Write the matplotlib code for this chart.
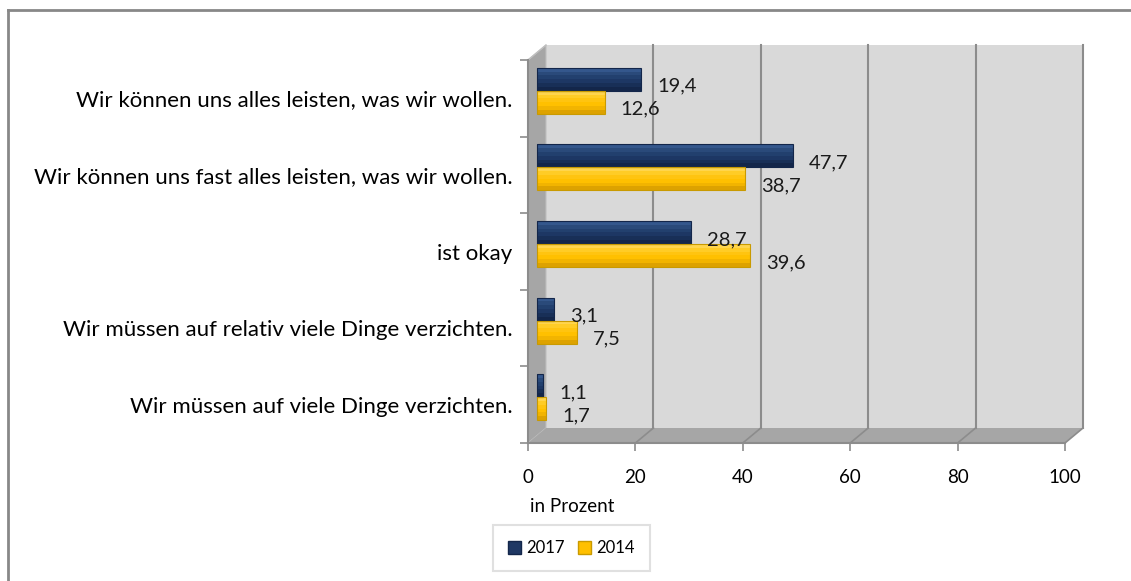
import matplotlib
matplotlib.use("Agg")
import matplotlib.pyplot as plt
from matplotlib.patches import Polygon, Patch
from matplotlib.lines import Line2D

plt.rcParams['font.family'] = ['Lato', 'DejaVu Sans']

# Daten (von oben nach unten)
kategorien = [
    "Wir können uns alles leisten, was wir wollen.",
    "Wir können uns fast alles leisten, was wir wollen.",
    "ist okay",
    "Wir müssen auf relativ viele Dinge verzichten.",
    "Wir müssen auf viele Dinge verzichten.",
]
werte_2017 = [19.4, 47.7, 28.7, 3.1, 1.1]
werte_2014 = [12.6, 38.7, 39.6, 7.5, 1.7]
x_ticks = [0, 20, 40, 60, 80, 100]

farbe_2017 = "#1F3864"
farbe_2014 = "#FFC000"
grau_wand = "#D9D9D9"
grau_seite = "#A6A6A6"
grau_linie = "#8C8C8C"

# Farbverlauf oben hell -> unten dunkel
verlauf_2017 = ["#34578C", "#2A4A7A", "#22406E", "#1D3764", "#182F57", "#13264A"]
verlauf_2014 = ["#FFD54D", "#FFCC26", "#FFC410", "#FFC000", "#F2B400", "#DDA200"]

fig = plt.figure(figsize=(11.31, 5.81), dpi=100)
ax = fig.add_axes([528 / 1131, 138 / 581, 537 / 1131, 383 / 581])
ax.set_xlim(0, 100)
ax.set_ylim(0, 5)

# Tiefe des 3D-Effekts in Datenkoordinaten
DX = 18 / (537 / 100)
DY = 15 / (383 / 5)

# Rückwand, Seitenwand, Boden
ax.add_patch(Polygon([(DX, DY), (100 + DX, DY), (100 + DX, 5 + DY), (DX, 5 + DY)],
                     closed=True, facecolor=grau_wand, edgecolor="none", clip_on=False, zorder=0))
ax.add_patch(Polygon([(0, 0), (DX, DY), (DX, 5 + DY), (0, 5)],
                     closed=True, facecolor=grau_seite, edgecolor="#BFBFBF", lw=0.8, clip_on=False, zorder=1))
ax.add_patch(Polygon([(0, 0), (100, 0), (100 + DX, DY), (DX, DY)],
                     closed=True, facecolor=grau_seite, edgecolor="none", clip_on=False, zorder=1))
for xt in x_ticks[1:]:
    ax.plot([xt + DX, xt + DX], [DY, 5 + DY], color=grau_linie, lw=1.5, clip_on=False, zorder=1)
    ax.plot([xt, xt + DX], [0, DY], color=grau_linie, lw=1.2, clip_on=False, zorder=1)
ax.plot([0, DX], [5, 5 + DY], color="#BFBFBF", lw=1, clip_on=False, zorder=1)

# Balken (mittig in der Tiefe)
n = len(kategorien)
h = 0.3
for i in range(n):
    yc = n - 0.5 - i + DY / 2
    for v, dy, verlauf, kante in [(werte_2017[i], h / 2, verlauf_2017, "#13264A"),
                                  (werte_2014[i], -h / 2, verlauf_2014, "#C99A00")]:
        k = len(verlauf)
        for j, c in enumerate(verlauf):
            yj = yc + dy + h / 2 - (j + 0.5) * h / k
            ax.barh(yj, v, height=h / k * 1.05, left=DX / 2, color=c, lw=0, zorder=3)
        ax.barh(yc + dy, v, height=h, left=DX / 2, color="none",
                edgecolor=kante, lw=0.8, zorder=4)
        ax.annotate(f"{v:.1f}".replace(".", ","), xy=(DX / 2 + v, yc + dy),
                    xytext=(16, -7), textcoords="offset pixels",
                    ha="left", va="center", fontsize=14.5, color="#1a1a1a", zorder=5)

# Achsen
for s in ["top", "right"]:
    ax.spines[s].set_visible(False)
for s in ["left", "bottom"]:
    ax.spines[s].set_color(grau_linie)
    ax.spines[s].set_linewidth(1.5)
    ax.spines[s].set_zorder(2)
ax.set_facecolor("none")

ax.set_xticks(x_ticks)
ax.set_xticklabels([str(t) for t in x_ticks], fontsize=13.5)
ax.tick_params(axis="x", length=6, width=1.2, color=grau_linie, pad=13)

ax.set_yticks(range(n + 1))
ax.set_yticklabels([])
ax.set_yticks([n - 0.5 - i for i in range(n)], minor=True)
ax.set_yticklabels(kategorien, minor=True, fontsize=16)
ax.tick_params(axis="y", which="major", length=6, width=1.2, color=grau_linie)
ax.tick_params(axis="y", which="minor", length=0, pad=11)

fig.text(530 / 1131, 1 - 506 / 581, "in Prozent", ha="left", va="center", fontsize=13.5)

# Legende
handles = [Patch(facecolor=farbe_2017, edgecolor="#13264A", label="2017"),
           Patch(facecolor=farbe_2014, edgecolor="#C99A00", label="2014")]
leg = fig.legend(handles=handles, loc="center", bbox_to_anchor=(571 / 1131, 1 - 548 / 581),
                 ncol=2, fontsize=12, handlelength=0.8, handleheight=0.8, handletextpad=0.3,
                 columnspacing=0.8, fancybox=False, borderpad=0.9, borderaxespad=0)
leg.get_frame().set_edgecolor("#D9D9D9")
leg.get_frame().set_linewidth(1.5)

# Rahmen des Diagramms
fig.add_artist(Line2D([8 / 1131, 8 / 1131], [0, 1 - 10 / 581], color="#888888", lw=2))
fig.add_artist(Line2D([8 / 1131, 1], [1 - 10 / 581, 1 - 10 / 581], color="#888888", lw=2))

fig.savefig("out.png", dpi=100)
